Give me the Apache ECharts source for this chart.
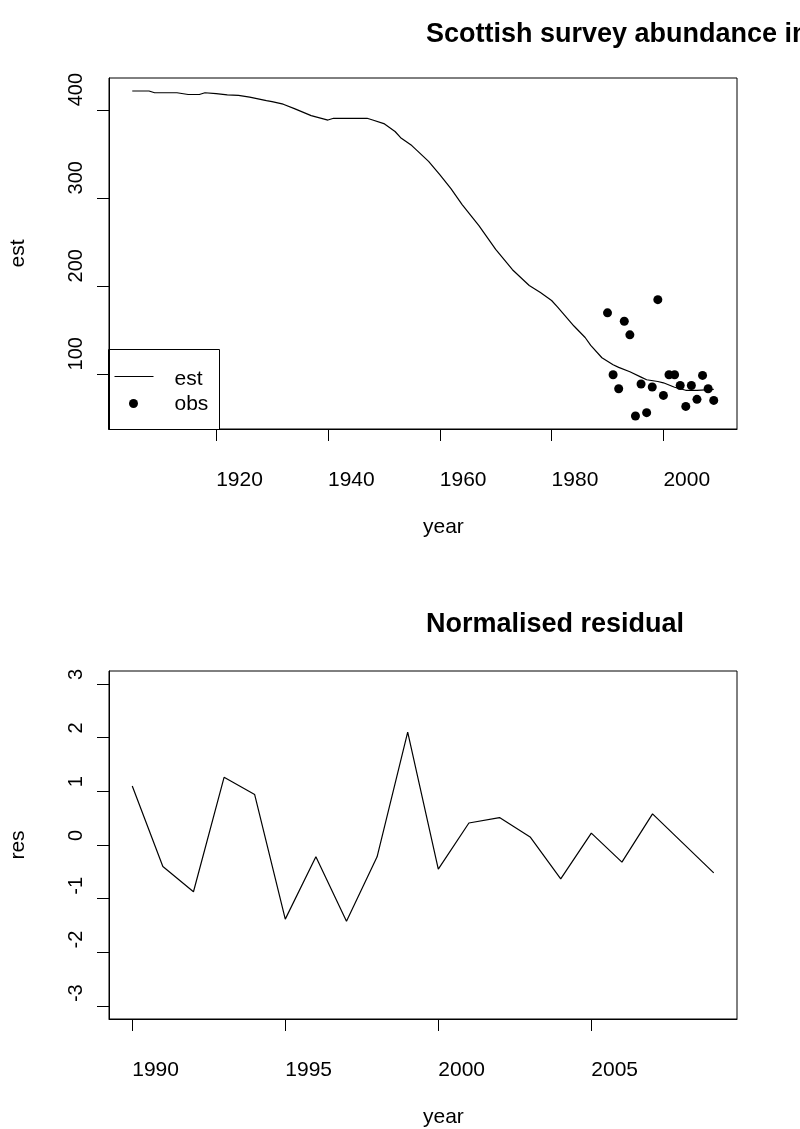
<!DOCTYPE html>
<html>
<head>
<meta charset="utf-8">
<title>Scottish survey abundance index</title>
<script src="https://cdn.jsdelivr.net/npm/echarts@6/dist/echarts.min.js"></script>
<style>
    html, body { margin: 0; padding: 0; background: #fff; }
    #chart { width: 800px; height: 1129px; }
</style>
</head>
<body>
<div id="chart"></div>
<script>
// upper panel: model estimate (line)
var estYears = [1905, 1908, 1909, 1913, 1915, 1917, 1918, 1920, 1922, 1924,
    1926, 1929, 1930, 1932, 1934, 1937, 1940, 1941, 1947, 1948,
    1950, 1952, 1953, 1955, 1957, 1958, 1960, 1962, 1964, 1967,
    1970, 1973, 1976, 1978, 1980, 1981, 1984, 1986, 1987, 1989,
    1991, 1992, 1994, 1996, 1997, 1999, 2000, 2002, 2004, 2006, 2009];
var estValues = [422, 422, 420, 420, 418, 418, 420, 419, 417.5, 417,
    415, 411, 410, 407, 402, 394, 389, 391, 391, 389,
    385, 376, 369, 360, 348, 342, 327, 311, 293, 269,
    242, 219, 201, 193, 184, 177, 155, 142, 133, 119,
    111, 108, 103, 97, 94, 92, 90.5, 85.5, 82, 82, 83];

// upper panel: survey observations (points)
var obsYears = [1990, 1991, 1992, 1993, 1994, 1995, 1996, 1997, 1998, 1999,
    2000, 2001, 2002, 2003, 2004, 2005, 2006, 2007, 2008, 2009];
var obsValues = [170, 99.7, 83.8, 160.5, 145, 52.8, 89.1, 56.6, 85.7, 185,
    76.2, 99.7, 99.7, 87.5, 63.7, 87.5, 71.7, 98.9, 83.8, 70.5];

// lower panel: normalised residuals
var resYears = obsYears;
var resValues = [1.10, -0.40, -0.87, 1.26, 0.94, -1.38, -0.22, -1.42, -0.22, 2.10,
    -0.45, 0.41, 0.51, 0.15, -0.63, 0.22, -0.32, 0.58, 0.03, -0.52];
var resLimits = [-3, 3];

// tick labels
var topXTicks = [1920, 1940, 1960, 1980, 2000];
var topYTicks = [100, 200, 300, 400];
var bottomXTicks = [1990, 1995, 2000, 2005];
var bottomYTicks = [-3, -2, -1, 0, 1, 2, 3];

var FONT = 'Liberation Sans';

function pairs(xs, ys) {
    return xs.map(function (x, i) {
        return [x, ys[i]];
    });
}

// R style 4% padding around the data range
function padRange(lo, hi) {
    var d = (hi - lo) * 0.04;
    return [lo - d, hi + d];
}

function plain(v) {
    return String(v);
}

function xAxisCfg(gridIndex, range, ticks) {
    return {
        type: 'value',
        gridIndex: gridIndex,
        min: range[0],
        max: range[1],
        name: 'year',
        nameLocation: 'middle',
        nameGap: 88,
        nameTextStyle: { color: '#000', fontSize: 21, fontFamily: FONT, align: 'left', verticalAlign: 'top' },
        axisLine: { show: true, onZero: false, lineStyle: { color: '#000', width: 1 } },
        axisTick: { show: true, length: 12, customValues: ticks, lineStyle: { color: '#000', width: 1 } },
        axisLabel: {
            customValues: ticks,
            formatter: plain,
            margin: 41,
            color: '#000',
            fontSize: 21,
            fontFamily: FONT,
            align: 'left',
            verticalAlign: 'top'
        },
        splitLine: { show: false }
    };
}

function yAxisCfg(gridIndex, range, ticks, name) {
    return {
        type: 'value',
        gridIndex: gridIndex,
        min: range[0],
        max: range[1],
        name: name,
        nameLocation: 'middle',
        nameGap: 80,
        nameRotate: 90,
        nameTextStyle: { color: '#000', fontSize: 21, fontFamily: FONT },
        axisLine: { show: true, onZero: false, lineStyle: { color: '#000', width: 1 } },
        axisTick: { show: true, length: 12, customValues: ticks, lineStyle: { color: '#000', width: 1 } },
        axisLabel: {
            customValues: ticks,
            formatter: plain,
            rotate: 90,
            margin: 33,
            color: '#000',
            fontSize: 20,
            fontFamily: FONT,
            align: 'left',
            verticalAlign: 'middle',
            padding: [0, 0, 0, 4]
        },
        splitLine: { show: false }
    };
}

function showChart() {
    var chart = echarts.init(document.getElementById('chart'), null, { renderer: 'canvas' });

    var topYears = estYears.concat(obsYears);
    var topX = padRange(Math.min.apply(null, topYears), Math.max.apply(null, topYears));
    var allTop = estValues.concat(obsValues);
    var topY = padRange(Math.min.apply(null, allTop), Math.max.apply(null, allTop));
    var botX = padRange(Math.min.apply(null, resYears), Math.max.apply(null, resYears));
    var botY = padRange(resLimits[0], resLimits[1]);

    var titleStyle = { color: '#000', fontSize: 27, fontWeight: 'bold', fontFamily: FONT };

    chart.setOption({
        backgroundColor: '#fff',
        animation: false,
        title: [
            { text: 'Scottish survey abundance index', left: 421, top: 16, textStyle: titleStyle },
            { text: 'Normalised residual', left: 421, top: 606, textStyle: titleStyle }
        ],
        grid: [
            { left: 107.5, top: 78, width: 629.5, height: 351, show: true, borderColor: '#000', borderWidth: 1 },
            { left: 107.5, top: 671, width: 629.5, height: 351, show: true, borderColor: '#000', borderWidth: 1 }
        ],
        xAxis: [
            xAxisCfg(0, topX, topXTicks),
            xAxisCfg(1, botX, bottomXTicks)
        ],
        yAxis: [
            yAxisCfg(0, topY, topYTicks, 'est'),
            yAxisCfg(1, botY, bottomYTicks, 'res')
        ],
        series: [
            {
                name: 'est',
                type: 'line',
                xAxisIndex: 0,
                yAxisIndex: 0,
                symbol: 'none',
                lineStyle: { color: '#000', width: 1.2 },
                data: pairs(estYears, estValues)
            },
            {
                name: 'obs',
                type: 'scatter',
                xAxisIndex: 0,
                yAxisIndex: 0,
                symbol: 'circle',
                symbolSize: 9,
                itemStyle: { color: '#000', opacity: 1 },
                data: pairs(obsYears, obsValues)
            },
            {
                name: 'res',
                type: 'line',
                xAxisIndex: 1,
                yAxisIndex: 1,
                symbol: 'none',
                lineStyle: { color: '#000', width: 1.2 },
                data: pairs(resYears, resValues)
            }
        ],
        // legend box drawn like R's legend(), bottom-left of the upper panel
        graphic: [
            {
                type: 'group',
                left: 108,
                top: 349,
                children: [
                    { type: 'rect', shape: { x: 0, y: 0, width: 111, height: 80 }, style: { fill: '#fff', stroke: '#000', lineWidth: 1 } },
                    { type: 'line', shape: { x1: 6, y1: 27, x2: 45, y2: 27 }, style: { stroke: '#000', lineWidth: 1.2 } },
                    { type: 'circle', shape: { cx: 25, cy: 54, r: 4.5 }, style: { fill: '#000' } },
                    { type: 'text', x: 66, y: 30, style: { text: 'est', font: '21px "Liberation Sans"', fill: '#000', verticalAlign: 'middle' } },
                    { type: 'text', x: 66, y: 55, style: { text: 'obs', font: '21px "Liberation Sans"', fill: '#000', verticalAlign: 'middle' } }
                ]
            }
        ]
    });
}

showChart();
</script>
</body>
</html>
